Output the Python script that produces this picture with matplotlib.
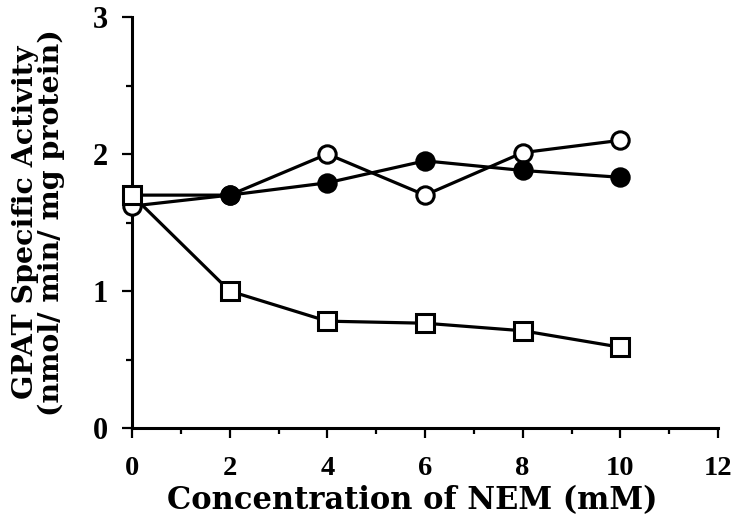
import matplotlib
matplotlib.use("Agg")
import matplotlib.pyplot as plt
from matplotlib.ticker import MultipleLocator

# NEM concentration (mM)
nem = [0, 2, 4, 6, 8, 10]
# GPAT specific activity (nmol/ min/ mg protein)
open_circles = [1.62, 1.70, 2.00, 1.70, 2.01, 2.10]
filled_circles = [1.70, 1.70, 1.79, 1.95, 1.88, 1.83]
open_squares = [1.70, 1.00, 0.78, 0.765, 0.71, 0.59]

fig = plt.figure(figsize=(7.35, 5.17), dpi=100)
ax = fig.add_axes([0.1796, 0.1721, 0.7973, 0.7950])

lw = 2.3
ms = 12.5
mew = 2.2
ax.plot(nem, open_circles, "-o", color="black", lw=lw, ms=ms,
        mfc="white", mec="black", mew=mew, zorder=3, clip_on=False)
ax.plot(nem, filled_circles, "-o", color="black", lw=lw, ms=ms,
        mfc="black", mec="black", mew=mew, zorder=4, clip_on=False)
ax.plot(nem, open_squares, "-s", color="black", lw=lw, ms=ms,
        mfc="white", mec="black", mew=mew, zorder=5, clip_on=False)

ax.set_xlim(0, 12)
ax.set_ylim(0, 3)
ax.xaxis.set_major_locator(MultipleLocator(2))
ax.xaxis.set_minor_locator(MultipleLocator(1))
ax.yaxis.set_major_locator(MultipleLocator(1))
ax.yaxis.set_minor_locator(MultipleLocator(0.5))

for side in ("top", "right"):
    ax.spines[side].set_visible(False)
for side in ("left", "bottom"):
    ax.spines[side].set_linewidth(2.2)

ax.tick_params(which="major", direction="out", length=7.5, width=1.6)
ax.tick_params(which="minor", direction="out", length=4, width=1.6)
ax.tick_params(axis="x", which="major", pad=13, labelsize=20.5)
ax.tick_params(axis="y", which="major", pad=10, labelsize=22)
for lab in ax.get_xticklabels() + ax.get_yticklabels():
    lab.set_fontfamily("Liberation Serif")
    lab.set_fontweight("bold")

ax.set_xlabel("Concentration of NEM (mM)", fontfamily="DejaVu Serif",
              fontweight="bold", fontsize=22, labelpad=0)
ax.xaxis.set_label_coords(0.478, -0.176, transform=ax.transAxes)
ax.xaxis.label.set_va("center")
ax.set_ylabel("GPAT Specific Activity\n(nmol/ min/ mg protein)",
              fontfamily="DejaVu Serif", fontweight="bold", fontsize=20.5,
              labelpad=20, linespacing=0.92)

fig.savefig("out.png", dpi=100)
